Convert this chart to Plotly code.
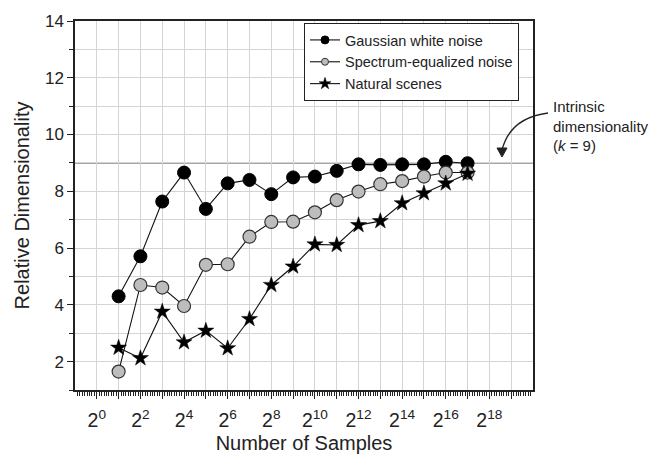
import plotly.graph_objects as go

exponents = list(range(1, 18))
gaussian = [4.30, 5.71, 7.64, 8.66, 7.38, 8.28, 8.40, 7.90, 8.49, 8.52, 8.72, 8.95, 8.93, 8.95, 8.95, 9.04, 8.99]
spectrum = [1.65, 4.70, 4.61, 3.96, 5.41, 5.43, 6.40, 6.92, 6.93, 7.26, 7.69, 7.99, 8.25, 8.36, 8.52, 8.66, 8.66]
natural = [2.49, 2.12, 3.76, 2.68, 3.09, 2.47, 3.50, 4.70, 5.35, 6.13, 6.11, 6.81, 6.95, 7.58, 7.93, 8.28, 8.62]
series_names = ["Gaussian white noise", "Spectrum-equalized noise", "Natural scenes"]
intrinsic_k = 9

x_vals = [2 ** n for n in exponents]
major_exps = list(range(0, 20))
tick_vals = [2 ** n for n in major_exps]
tick_text = [f"2<sup>{n}</sup>" if n % 2 == 0 else "" for n in major_exps]
minor_vals = [2 ** (n + i / 9) for n in range(-1, 20) for i in range(1, 9)]

FONT = "Liberation Sans, Arial, sans-serif"
INK = "#222222"

styles = [
    dict(symbol="circle", size=13, color="black", line=dict(color="black", width=1)),
    dict(symbol="circle", size=13, color="#bdbdbd", line=dict(color="#333333", width=1.2)),
    dict(symbol="star", size=12, color="black", line=dict(color="black", width=0.5)),
]
legend_styles = [
    dict(symbol="circle", size=8, color="black", line=dict(color="black", width=1)),
    dict(symbol="circle", size=7, color="#bdbdbd", line=dict(color="#333333", width=1)),
    dict(symbol="star", size=9, color="black", line=dict(color="black", width=0.5)),
]

fig = go.Figure()
for name, ys, st in zip(series_names, [gaussian, spectrum, natural], styles):
    fig.add_trace(go.Scatter(
        x=x_vals, y=ys, mode="lines+markers", name=name, showlegend=False,
        line=dict(color="#111111", width=1.1), marker=st))
for name, st in zip(series_names, legend_styles):
    fig.add_trace(go.Scatter(
        x=[None], y=[None], mode="lines+markers", name=name, showlegend=True,
        line=dict(color="#111111", width=1.1), marker=st))

# intrinsic dimensionality line
fig.add_shape(type="line", xref="paper", yref="y", x0=0, x1=1, y0=intrinsic_k, y1=intrinsic_k,
              line=dict(color="#a6a6a6", width=2), layer="below")

def px(x):
    return (x - 75) / 458

def py(y):
    return (390 - y) / 369

# curved arrow
fig.add_shape(type="path", xref="paper", yref="paper",
              path=f"M {px(548)},{py(113)} Q {px(510)},{py(118)} {px(502)},{py(150)}",
              line=dict(color=INK, width=1.3))
fig.add_shape(type="path", xref="paper", yref="paper",
              path=f"M {px(497)},{py(148)} L {px(507)},{py(148)} L {px(502)},{py(157)} Z",
              line=dict(color=INK, width=1), fillcolor=INK)

fig.add_annotation(xref="paper", yref="paper", x=px(551), y=py(96), xanchor="left", yanchor="top",
                   text="Intrinsic<br>dimensionality<br>(<i>k</i> = 9)", showarrow=False, align="left",
                   font=dict(family=FONT, size=15, color=INK))

fig.update_layout(
    width=651, height=458,
    margin=dict(l=75, r=118, t=21, b=68, autoexpand=False),
    paper_bgcolor="white", plot_bgcolor="white",
    font=dict(family=FONT, color=INK),
    showlegend=True,
    legend=dict(x=px(304), y=py(23), xanchor="left", yanchor="top",
                bgcolor="white", bordercolor=INK, borderwidth=1,
                font=dict(family=FONT, size=14.5, color=INK),
                tracegroupgap=0, itemwidth=30),
    xaxis=dict(
        type="log", range=[-0.30103, 6.0206], automargin=False,
        tickmode="array", tickvals=tick_vals, ticktext=tick_text,
        ticks="outside", ticklen=7, tickwidth=1.3, tickcolor=INK,
        ticklabelstandoff=5,
        showgrid=True, gridcolor="#d4d4d4", gridwidth=1,
        showline=True, linecolor=INK, linewidth=1.5, mirror=True,
        tickfont=dict(family=FONT, size=19.5, color=INK),
        minor=dict(tickmode="array", tickvals=minor_vals, ticks="outside", ticklen=4,
                   tickwidth=1, tickcolor=INK, showgrid=False),
        title=dict(text="Number of Samples", font=dict(family=FONT, size=20, color=INK), standoff=6),
        zeroline=False,
    ),
    yaxis=dict(
        range=[1, 14], tickmode="linear", tick0=2, dtick=2, automargin=False,
        ticks="outside", ticklen=6, tickwidth=1.3, tickcolor=INK,
        showgrid=True, gridcolor="#d4d4d4", gridwidth=1,
        showline=True, linecolor=INK, linewidth=1.5, mirror=True,
        tickfont=dict(family=FONT, size=17, color=INK),
        minor=dict(dtick=1, tick0=1, ticks="outside", ticklen=4, tickwidth=1, tickcolor=INK,
                   showgrid=True, gridcolor="#d4d4d4", gridwidth=1),
        title=dict(text="Relative Dimensionality", font=dict(family=FONT, size=20, color=INK), standoff=10),
        zeroline=False,
    ),
)

fig.write_html("out.html")
